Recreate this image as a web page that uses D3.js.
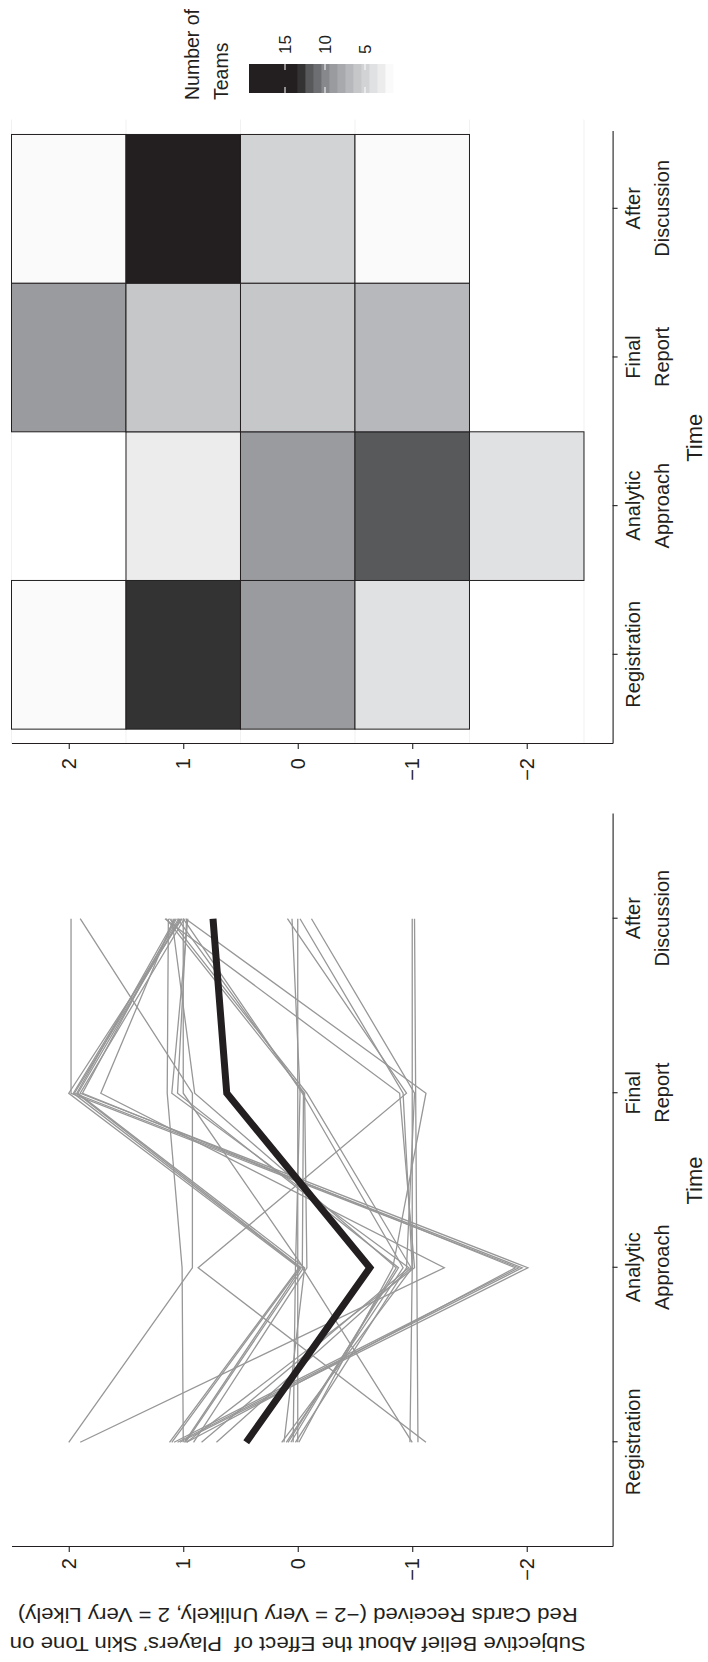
<!DOCTYPE html>
<html lang="en">
<head>
<meta charset="UTF-8">
<title>Subjective Belief Over Time</title>
<script src="https://d3js.org/d3.v7.min.js"></script>
<style>
    body { margin: 0; background: #fff; }
    svg { display: block; }
    text { font-family: "Liberation Sans", Arial, sans-serif; fill: #231f20; }
    .tick text { font-size: 20px; }
    .domain, .tick line { stroke: #231f20; stroke-width: 1.1; }
</style>
</head>
<body>
<svg id="chart"></svg>
<script>
const times = ["Registration", "Analytic\nApproach", "Final\nReport", "After\nDiscussion"];
const beliefTicks = [2, 1, 0, -1, -2];
const beliefLevels = [2, 1, 0, -1, -2];

// one row per team: belief at Registration, Analytic Approach, Final Report, After Discussion
const teamBeliefs = [
    [2.00, 0.92, 0.92, 1.90],
    [1.90, -1.28, 1.72, 1.08],
    [-0.98, -1.00, -1.00, -1.00],
    [-1.05, -1.04, -1.03, -1.02],
    [-1.12, 0.87, -0.95, 0.09],
    [-1.00, -0.04, -0.05, 1.05],
    [0.00, 0.00, 0.00, 0.00],
    [0.04, 0.02, -0.02, 0.05],
    [0.14, -1.00, -0.92, -0.02],
    [0.12, -0.06, 1.92, 1.03],
    [0.085, -0.88, 1.05, 0.97],
    [0.06, -0.86, 0.90, 1.10],
    [0.10, -0.92, -0.04, 1.00],
    [0.02, -0.95, -1.02, -0.12],
    [-0.01, -0.83, -1.12, 0.98],
    [1.00, 1.01, 1.14, 1.13],
    [1.08, -1.93, 1.98, 1.98],
    [1.05, -1.96, 1.95, 1.02],
    [1.03, -2.01, 1.90, 0.99],
    [0.97, -1.90, 1.88, 1.06],
    [1.12, -0.01, 2.00, 1.01],
    [1.10, -0.02, 1.96, 1.04],
    [0.99, -0.03, 1.93, 1.07],
    [0.98, -0.05, 1.00, 1.00],
    [0.91, -0.08, -0.06, 1.15],
    [0.84, -0.97, 1.10, 0.96],
    [0.71, -0.99, -0.08, 1.12],
    [0.97, -1.02, -0.89, 1.16]
];
const meanBelief = [0.45, -0.63, 0.62, 0.74];

// number of teams per time (rows) and belief level 2 .. -2 (columns)
const teamCounts = [
    [2, 13, 9, 4, 0],
    [0, 3, 9, 12, 4],
    [9, 6, 6, 7, 0],
    [2, 19, 5, 2, 0]
];
const legendTicks = [15, 10, 5];

const W = 708, H = 1662;
const svg = d3.select("#chart").attr("width", W).attr("height", H);
svg.append("rect").attr("width", W).attr("height", H).attr("fill", "#fff");

// figure is laid out landscape, then turned a quarter turn counter-clockwise
const fig = svg.append("g").attr("transform", `translate(0,${H}) rotate(-90)`);

const y = d3.scaleLinear().domain([2.5, -2.75]).range([11.5, 612.6]);
const xLine = d3.scaleLinear().domain([0.4, 4.6]).range([115, 848]);
const xHeat = d3.scaleLinear().domain([0.4, 4.52]).range([918, 1530.5]);

const countColor = d3.scaleLinear()
    .domain([2, 3, 4, 5, 6, 7, 8, 9, 10, 11, 12, 13, 14])
    .range(["#fafafa", "#ececec", "#e0e1e3", "#d2d3d5", "#c6c7c9", "#b7b8bb", "#a8a9ac",
            "#9a9b9e", "#87888b", "#6d6e71", "#58595b", "#333333", "#231f20"])
    .clamp(true);

function timeAxis(g, x) {
    g.attr("transform", `translate(0,${y.range()[1]})`)
        .call(d3.axisBottom(x).tickValues([1, 2, 3, 4]).tickSize(5).tickSizeOuter(0).tickFormat(""));
    g.selectAll(".tick").each(function(d) {
        const t = d3.select(this).append("text")
            .attr("text-anchor", "middle").attr("fill", "#231f20");
        times[d - 1].split("\n").forEach((s, i) => {
            t.append("tspan").attr("x", 0).attr("y", 27.5 + i * 29).text(s);
        });
    });
}

function beliefAxis(g, x0, pad) {
    g.attr("transform", `translate(${x0},0)`)
        .call(d3.axisLeft(y).tickValues(beliefTicks).tickFormat(d3.format("d"))
            .tickSize(5).tickPadding(pad).tickSizeOuter(0));
}

// ---- left panel: team trajectories ----
const line = d3.line().x((d, i) => xLine(i + 1)).y(d => y(d));

fig.append("g").selectAll("path")
    .data(teamBeliefs)
    .join("path")
    .attr("d", line)
    .attr("fill", "none")
    .attr("stroke", "#979797")
    .attr("stroke-width", 1.3);

fig.append("path")
    .datum(meanBelief)
    .attr("d", line)
    .attr("fill", "none")
    .attr("stroke", "#231f20")
    .attr("stroke-width", 7)
    .attr("stroke-linejoin", "miter");

fig.append("g").call(timeAxis, xLine);
fig.append("g").call(beliefAxis, xLine.range()[0], 6);

// ---- right panel: counts ----
fig.append("g").selectAll("line")
    .data([2.5, 1.5, 0.5, -0.5, -1.5, -2.5])
    .join("line")
    .attr("x1", xHeat(0.4)).attr("x2", xHeat(4.6))
    .attr("y1", d => y(d)).attr("y2", d => y(d))
    .attr("stroke", "#f1f1f1").attr("stroke-width", 1);

const tiles = [];
teamCounts.forEach((row, ti) => row.forEach((n, li) => {
    if (n > 0) tiles.push({ t: ti + 1, b: beliefLevels[li], n: n });
}));

fig.append("g").selectAll("rect")
    .data(tiles)
    .join("rect")
    .attr("x", d => xHeat(d.t - 0.5))
    .attr("width", xHeat(1.5) - xHeat(0.5))
    .attr("y", d => y(d.b + 0.5))
    .attr("height", y(-0.5) - y(0.5))
    .attr("fill", d => countColor(d.n))
    .attr("stroke", "#231f20")
    .attr("stroke-width", 1);

fig.append("g").call(timeAxis, xHeat);
fig.append("g").call(beliefAxis, xHeat.range()[0], 9);

// axis titles
[xLine, xHeat].forEach(x => {
    const r = x.range();
    fig.append("text")
        .attr("x", (r[0] + r[1]) / 2).attr("y", 702)
        .attr("text-anchor", "middle")
        .attr("font-size", 22)
        .text("Time");
});

const yTitle = [
    "Subjective Belief About the Effect of  Players\u2019 Skin Tone on",
    "Red Cards Received (\u22122 = Very Unlikely, 2 = Very Likely)"
];
const yTitleLen = [576, 560];
yTitle.forEach((s, i) => {
    fig.append("text")
        .attr("transform", `translate(${25 + i * 29},${y(0)}) rotate(-90)`)
        .attr("text-anchor", "middle")
        .attr("font-size", 21)
        .attr("textLength", yTitleLen[i])
        .attr("lengthAdjust", "spacingAndGlyphs")
        .style("white-space", "pre")
        .text(s);
});

// ---- legend ----
const lg = d3.scaleLinear().domain([19.5, 1.5]).range([249, 393]);
const legend = fig.append("g");
const barX = 1569, barW = 29;

legend.selectAll("rect")
    .data(d3.range(2, 20))
    .join("rect")
    .attr("x", barX)
    .attr("width", barW)
    .attr("y", d => lg(d + 0.5))
    .attr("height", lg(1.5) - lg(2.5) + 0.4)
    .attr("fill", d => countColor(d));

legendTicks.forEach(t => {
    [[barX, barX + 6], [barX + barW - 6, barX + barW]].forEach(([a, b]) => {
        legend.append("line")
            .attr("x1", a).attr("x2", b)
            .attr("y1", lg(t)).attr("y2", lg(t))
            .attr("stroke", "#fff").attr("stroke-width", 1);
    });
    legend.append("text")
        .attr("x", barX + barW + 10).attr("y", lg(t))
        .attr("dy", "0.35em")
        .attr("font-size", 17)
        .text(t);
});

["Number of", "Teams"].forEach((s, i) => {
    legend.append("text")
        .attr("x", 1562).attr("y", 199 + i * 29)
        .attr("font-size", 19.5)
        .text(s);
});
</script>
</body>
</html>
